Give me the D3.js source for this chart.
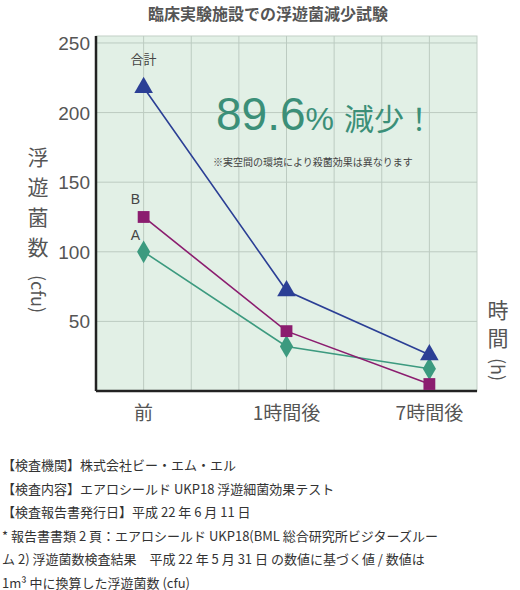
<!DOCTYPE html>
<html><head><meta charset="utf-8">
<script src="https://cdn.jsdelivr.net/npm/d3@7"></script>
<style>body{margin:0;background:#fff;font-family:"Noto Sans CJK JP","Noto Sans",sans-serif}</style>
</head><body><div id="chart"></div>
<script>
var categories = ['前', '1時間後', '7時間後'];
var catPos = [1, 4, 7];
var yTicks = [50, 100, 150, 200, 250];
var totalVals = [218, 72, 26];
var bVals = [125, 43, 5];
var aVals = [100, 32, 16];
var notes = [
  '【検査機関】株式会社ビー・エム・エル',
  '【検査内容】エアロシールド UKP18 浮遊細菌効果テスト',
  '【検査報告書発行日】平成 22 年 6 月 11 日',
  '* 報告書書類 2 頁：エアロシールド UKP18(BML 総合研究所ビジターズルー',
  'ム 2) 浮遊菌数検査結果　平成 22 年 5 月 31 日 の数値に基づく値 / 数値は',
  '1m³ 中に換算した浮遊菌数 (cfu)'
];

var svg = d3.select('#chart').append('svg').attr('width', 520).attr('height', 590);
var x = d3.scaleLinear().domain([0, 8]).range([96, 477]);
var y = d3.scaleLinear().domain([0, 255]).range([391, 36]);
var grey = '#555';

svg.append('text').attr('x', 268).attr('y', 20).attr('text-anchor', 'middle')
  .attr('font-size', 16).attr('font-weight', 'bold').attr('fill', grey).text('臨床実験施設での浮遊菌減少試験');

svg.append('rect').attr('x', x(0)).attr('y', y(255)).attr('width', x(8) - x(0)).attr('height', y(0) - y(255))
  .attr('fill', '#e2f0e6').attr('stroke', '#c2cfc6');

svg.selectAll('.vg').data(d3.range(1, 8)).enter().append('line')
  .attr('x1', x).attr('x2', x).attr('y1', y(255)).attr('y2', y(0)).attr('stroke', '#bccbc1');
svg.selectAll('.hg').data(yTicks).enter().append('line')
  .attr('x1', x(0)).attr('x2', x(8)).attr('y1', y).attr('y2', y).attr('stroke', '#bccbc1');

// axes lines
svg.append('line').attr('x1', x(0)).attr('x2', x(0)).attr('y1', y(255)).attr('y2', y(0)).attr('stroke', '#222').attr('stroke-width', 2.5);
svg.append('line').attr('x1', x(0)).attr('x2', x(8)).attr('y1', y(0)).attr('y2', y(0)).attr('stroke', '#222').attr('stroke-width', 2.5);

svg.selectAll('.yt').data(yTicks).enter().append('text')
  .attr('x', 90).attr('y', function(d){ return y(d) + 7; }).attr('text-anchor', 'end')
  .attr('font-size', 19).attr('fill', grey).attr('font-family', 'Liberation Sans, sans-serif').text(function(d){ return d; });

svg.selectAll('.xt').data(categories).enter().append('text')
  .attr('x', function(d, i){ return x(catPos[i]); }).attr('y', 420).attr('text-anchor', 'middle')
  .attr('font-size', 19).attr('fill', grey).text(function(d){ return d; });

// y axis title (vertical)
['浮', '遊', '菌', '数'].forEach(function(c, i){
  svg.append('text').attr('x', 38).attr('y', 165 + i * 30).attr('text-anchor', 'middle')
    .attr('font-size', 21).attr('fill', grey).text(c);
});
svg.append('text').attr('transform', 'translate(31,275) rotate(90)').attr('font-size', 18).attr('fill', grey).text('(cfu)');
['時', '間'].forEach(function(c, i){
  svg.append('text').attr('x', 498).attr('y', 318 + i * 28).attr('text-anchor', 'middle')
    .attr('font-size', 21).attr('fill', grey).text(c);
});
svg.append('text').attr('transform', 'translate(491,358) rotate(90)').attr('font-size', 18).attr('fill', grey).text('(h)');

var line = d3.line().x(function(d, i){ return x(catPos[i]); }).y(function(d){ return y(d); });
var series = [
  {vals: aVals, color: '#3c9a7f', sym: d3.symbolDiamond, size: 150},
  {vals: bVals, color: '#8b1d6f', sym: d3.symbolSquare, size: 140},
  {vals: totalVals, color: '#2b3f95', sym: d3.symbolTriangle, size: 150}
];
series.forEach(function(s){
  svg.append('path').attr('d', line(s.vals)).attr('fill', 'none').attr('stroke', s.color).attr('stroke-width', 1.6);
  svg.selectAll(null).data(s.vals).enter().append('path')
    .attr('d', d3.symbol().type(s.sym).size(s.size))
    .attr('transform', function(d, i){ return 'translate(' + x(catPos[i]) + ',' + y(d) + ')'; })
    .attr('fill', s.color);
});

svg.append('text').attr('x', x(1)).attr('y', 64).attr('text-anchor', 'middle').attr('font-size', 13).attr('fill', '#444').text('合計');
svg.append('text').attr('x', x(1) - 13).attr('y', 204).attr('font-size', 14).attr('fill', '#444').attr('font-family', 'Liberation Sans').text('B');
svg.append('text').attr('x', x(1) - 13).attr('y', 240).attr('font-size', 14).attr('fill', '#444').attr('font-family', 'Liberation Sans').text('A');

svg.append('text').attr('x', 216).attr('y', 130).attr('font-size', 46).attr('fill', '#3b8f78')
  .attr('font-family', 'Liberation Sans, sans-serif')
  .html('89.6<tspan font-size="32">%</tspan><tspan font-size="30" dx="10" font-family="Noto Sans CJK JP">減少！</tspan>');
svg.append('text').attr('x', 213).attr('y', 166).attr('font-size', 10).attr('fill', '#444').text('※実空間の環境により殺菌効果は異なります');

svg.selectAll('.note').data(notes).enter().append('text')
  .attr('x', 2).attr('y', function(d, i){ return 470 + i * 23.5; })
  .attr('font-size', 13).attr('fill', '#333').text(function(d){ return d; });
</script></body></html>
